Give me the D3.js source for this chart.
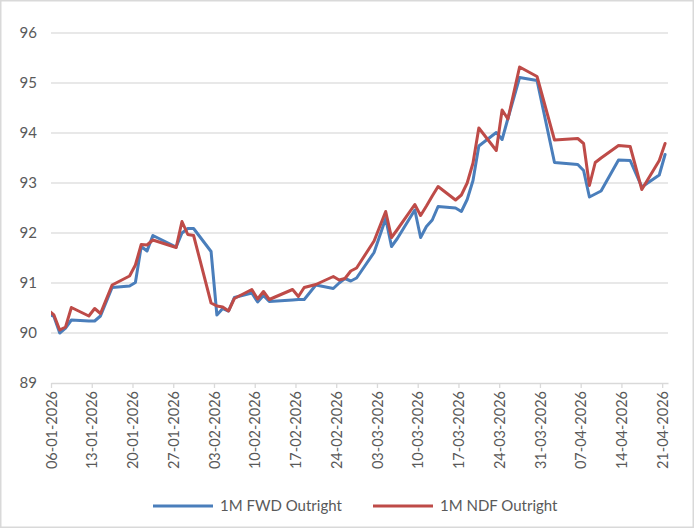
<!DOCTYPE html>
<html>
<head>
<meta charset="utf-8">
<script src="https://cdn.jsdelivr.net/npm/d3@7"></script>
<style>
  html, body { margin: 0; padding: 0; background: #fff; }
  svg { display: block; }
  text { font-family: "Century Gothic", Lato, "Open Sans", sans-serif; fill: #595959; }
</style>
</head>
<body>
<svg id="chart" width="694" height="528"></svg>
<script>
// ---- data ----
const dates = ["05-01-2026","06-01-2026","07-01-2026","08-01-2026","09-01-2026","12-01-2026","13-01-2026","14-01-2026","16-01-2026",
  "19-01-2026","20-01-2026","21-01-2026","22-01-2026","23-01-2026","27-01-2026","28-01-2026","29-01-2026","30-01-2026",
  "02-02-2026","03-02-2026","04-02-2026","05-02-2026","06-02-2026","09-02-2026","10-02-2026","11-02-2026","12-02-2026",
  "16-02-2026","17-02-2026","18-02-2026","20-02-2026","23-02-2026","24-02-2026","25-02-2026","26-02-2026","27-02-2026",
  "02-03-2026","04-03-2026","05-03-2026","06-03-2026","09-03-2026","10-03-2026","11-03-2026","12-03-2026","13-03-2026",
  "16-03-2026","17-03-2026","18-03-2026","19-03-2026","20-03-2026","23-03-2026","24-03-2026","25-03-2026","27-03-2026",
  "30-03-2026","02-04-2026","06-04-2026","07-04-2026","08-04-2026","09-04-2026","10-04-2026","13-04-2026","15-04-2026",
  "17-04-2026","20-04-2026","21-04-2026"];
const fwdOutright = [90.39,90.33,90.00,90.10,90.26,90.24,90.24,90.34,90.91,
  90.94,91.01,91.73,91.64,91.95,91.72,92.00,92.09,92.09,
  91.63,90.36,90.49,90.44,90.71,90.80,90.62,90.75,90.63,
  90.66,90.67,90.67,90.96,90.89,91.00,91.09,91.04,91.10,
  91.61,92.29,91.73,91.89,92.46,91.91,92.13,92.26,92.53,
  92.50,92.43,92.67,93.05,93.74,94.01,93.87,94.29,95.11,
  95.05,93.41,93.37,93.25,92.72,92.78,92.84,93.46,93.45,
  92.92,93.16,93.57];
const ndfOutright = [90.46,90.36,90.06,90.12,90.51,90.34,90.49,90.39,90.96,
  91.14,91.36,91.77,91.76,91.86,91.71,92.23,91.97,91.95,
  90.60,90.54,90.52,90.44,90.69,90.87,90.68,90.83,90.67,
  90.87,90.73,90.91,90.97,91.13,91.06,91.09,91.24,91.30,
  91.84,92.43,91.91,92.07,92.57,92.35,92.54,92.74,92.93,
  92.66,92.76,93.00,93.40,94.10,93.65,94.46,94.28,95.32,
  95.13,93.86,93.89,93.79,92.95,93.41,93.50,93.75,93.73,
  92.87,93.45,93.79];
const xTickLabels = ["06-01-2026","13-01-2026","20-01-2026","27-01-2026","03-02-2026","10-02-2026","17-02-2026","24-02-2026",
  "03-03-2026","10-03-2026","17-03-2026","24-03-2026","31-03-2026","07-04-2026","14-04-2026","21-04-2026"];
const yTicks = [89, 90, 91, 92, 93, 94, 95, 96];
const seriesNames = ["1M FWD Outright", "1M NDF Outright"];
const seriesColors = ["#4a7ebb", "#be4b48"];

// ---- layout ----
const svg = d3.select("#chart");
const W = 694, H = 528;
const plot = { left: 51, right: 668, top: 33, bottom: 383 };
const parse = d3.utcParse("%d-%m-%Y");

// chart border
svg.append("rect").attr("x", 0.75).attr("y", 0.75).attr("width", W - 1.5).attr("height", H - 1.5)
  .attr("fill", "#fff").attr("stroke", "#d9d9d9").attr("stroke-width", 1.5);

const x = d3.scaleUtc()
  .domain([parse("06-01-2026"), parse("22-04-2026")])
  .range([plot.left, plot.right]);
const y = d3.scaleLinear().domain([89, 96]).range([plot.bottom, plot.top]);

// gridlines
svg.append("g").selectAll("line").data(yTicks.filter(v => v !== 89)).join("line")
  .attr("x1", plot.left).attr("x2", plot.right)
  .attr("y1", d => y(d)).attr("y2", d => y(d))
  .attr("stroke", "#e0e0e0").attr("stroke-width", 1.6);

// y axis labels
const yAxis = d3.axisLeft(y).tickValues(yTicks).tickSize(0).tickPadding(14).tickFormat(d3.format("d"));
const gy = svg.append("g").attr("transform", `translate(${plot.left},0)`).call(yAxis);
gy.select(".domain").remove();
gy.selectAll("text").attr("font-size", 15).style("font-family", null).attr("fill", "#595959");

// x axis
const tickDates = xTickLabels.map(parse);
const xAxis = d3.axisBottom(x).tickValues(tickDates).tickSize(5).tickSizeOuter(0).tickPadding(0)
  .tickFormat(d3.utcFormat("%d-%m-%Y"));
const gx = svg.append("g").attr("transform", `translate(0,${plot.bottom})`).call(xAxis);
gx.select(".domain").attr("stroke", "#d9d9d9").attr("stroke-width", 1.6);
gx.selectAll(".tick line").attr("stroke", "#d9d9d9").attr("stroke-width", 1.3);
gx.selectAll("text")
  .attr("font-size", 14.5).style("font-family", null).attr("fill", "#595959")
  .attr("text-anchor", "end").attr("dy", "0.35em")
  .attr("transform", "translate(0,8) rotate(-90)")
  .attr("y", 0).attr("x", 0);

// clip
svg.append("clipPath").attr("id", "plotclip").append("rect")
  .attr("x", plot.left).attr("y", 0).attr("width", plot.right - plot.left).attr("height", H);

// lines (points at mid-day, Excel date-axis "between tick marks")
const pts = dates.map(s => d3.utcHour.offset(parse(s), 12));
const line = d3.line().x(d => x(d[0])).y(d => y(d[1]));
const series = [fwdOutright, ndfOutright];
svg.append("g").attr("clip-path", "url(#plotclip)").selectAll("path").data(series).join("path")
  .attr("d", vals => line(vals.map((v, i) => [pts[i], v])))
  .attr("fill", "none")
  .attr("stroke", (d, i) => seriesColors[i])
  .attr("stroke-width", 3)
  .attr("stroke-linejoin", "round")
  .attr("stroke-linecap", "round");

// legend
const legendX = [153, 373];
const lg = svg.append("g");
seriesNames.forEach((name, i) => {
  lg.append("line").attr("x1", legendX[i]).attr("x2", legendX[i] + 60)
    .attr("y1", 506).attr("y2", 506)
    .attr("stroke", seriesColors[i]).attr("stroke-width", 3);
  lg.append("text").attr("x", legendX[i] + 67).attr("y", 506).attr("dy", "0.35em")
    .attr("font-size", 15).text(name);
});
</script>
</body>
</html>
